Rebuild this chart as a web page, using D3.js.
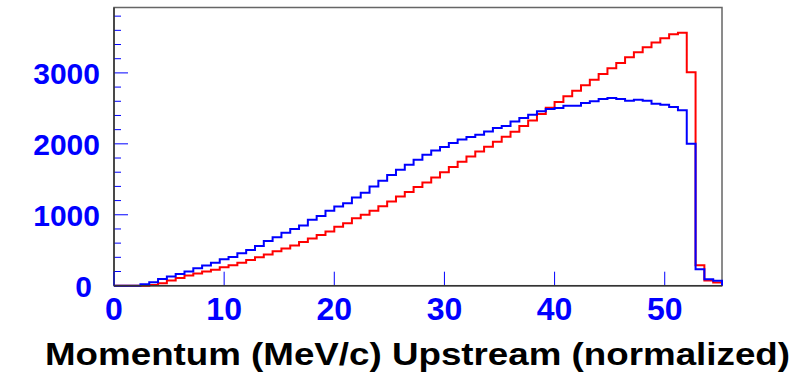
<!DOCTYPE html>
<html><head><meta charset="utf-8">
<script src="https://cdn.jsdelivr.net/npm/d3@7"></script>
<style>body{margin:0;background:#fff;} svg{display:block;}</style>
</head><body>
<svg id="c" width="798" height="376"></svg>
<script>
const binWidth = 0.8;
const nBins = 69;
const xTicks = [0, 10, 20, 30, 40, 50];
const yTicks = [0, 1000, 2000, 3000];
const xTitle = "Momentum (MeV/c) Upstream (normalized)";
const redCounts = [0,0,0,0,10,35,75,110,145,172,200,225,260,290,325,363,400,440,485,525,
  565,615,665,715,765,830,880,950,1000,1055,1120,1186,1257,1320,1390,1455,1525,1600,1675,1748,
  1822,1893,1960,2030,2100,2170,2250,2330,2420,2510,2590,2670,2750,2825,2905,2985,3065,3140,3220,3290,
  3360,3430,3490,3545,3565,3010,290,75,45];
const blueCounts = [0,0,0,20,50,95,130,165,200,245,285,325,373,405,457,504,561,631,683,745,
  800,847,928,984,1055,1116,1164,1243,1310,1400,1480,1560,1634,1705,1775,1846,1907,1955,2011,2060,
  2096,2128,2175,2223,2250,2316,2364,2411,2458,2492,2506,2538,2538,2576,2599,2633,2647,2633,2609,2623,
  2609,2566,2552,2520,2472,2001,232,90,70];

const svg = d3.select("#c");
const L = 114, R = 722, T = 7.5, B = 285.7;
const x = d3.scaleLinear().domain([0, nBins*binWidth]).range([L, R]);
const y = d3.scaleLinear().domain([0, 3922]).range([B, T]);
const font = "Liberation Sans, Arial, Helvetica, sans-serif";

svg.append("rect").attr("x", L).attr("y", T).attr("width", R-L).attr("height", B-T)
  .attr("fill", "none").attr("stroke", "#666").attr("stroke-width", 1.5);

function pts(counts){
  const p = [[0,0]];
  counts.forEach((v,i)=>p.push([i*binWidth, v]));
  p.push([nBins*binWidth, counts[counts.length-1]]);
  p.push([nBins*binWidth, 0]);
  return p;
}
const line = d3.line().x(d=>x(d[0])).y(d=>y(d[1])).curve(d3.curveStepAfter);
svg.append("path").attr("d", line(pts(redCounts))).attr("fill","none").attr("stroke","#ff0000").attr("stroke-width",2);
svg.append("path").attr("d", line(pts(blueCounts))).attr("fill","none").attr("stroke","#0000ff").attr("stroke-width",2);

const yMinor = d3.range(0, 3922, 200);
svg.selectAll(".ym").data(yMinor).enter().append("line")
  .attr("x1", L).attr("x2", d => L + (d % 1000 === 0 ? 14 : 7))
  .attr("y1", d=>y(d)).attr("y2", d=>y(d)).attr("stroke","#0000ff").attr("stroke-width",1);
svg.append("line").attr("x1",L).attr("x2",L).attr("y1",T).attr("y2",B).attr("stroke","#333").attr("stroke-width",1.5);
svg.selectAll(".yl").data(yTicks).enter().append("text")
  .attr("x", d => d === 0 ? 92 : 100).attr("y", d=>y(d)+11).attr("text-anchor","end")
  .attr("font-family",font).attr("font-weight","bold")
  .attr("font-size", 30).attr("fill","#0000ff").text(d=>d);

svg.selectAll(".xt").data(xTicks).enter().append("line")
  .attr("x1", d=>x(d)).attr("x2", d=>x(d)).attr("y1", B).attr("y2", B-14)
  .attr("stroke","#0000ff").attr("stroke-width",1);
svg.append("line").attr("x1",L).attr("x2",R).attr("y1",B).attr("y2",B).attr("stroke","#333").attr("stroke-width",1.5);
svg.selectAll(".xl").data(xTicks).enter().append("text")
  .attr("x", d=>x(d)).attr("y", 320).attr("text-anchor","middle")
  .attr("font-family",font).attr("font-weight","bold")
  .attr("font-size", 32).attr("fill","#0000ff").text(d=>d);

svg.append("text").attr("x", 45).attr("y", 365).attr("text-anchor","start")
  .attr("font-family",font).attr("font-weight","bold")
  .attr("font-size", 31).attr("textLength", 745).attr("lengthAdjust","spacingAndGlyphs")
  .attr("fill","#000").text(xTitle);
</script>
</body></html>
